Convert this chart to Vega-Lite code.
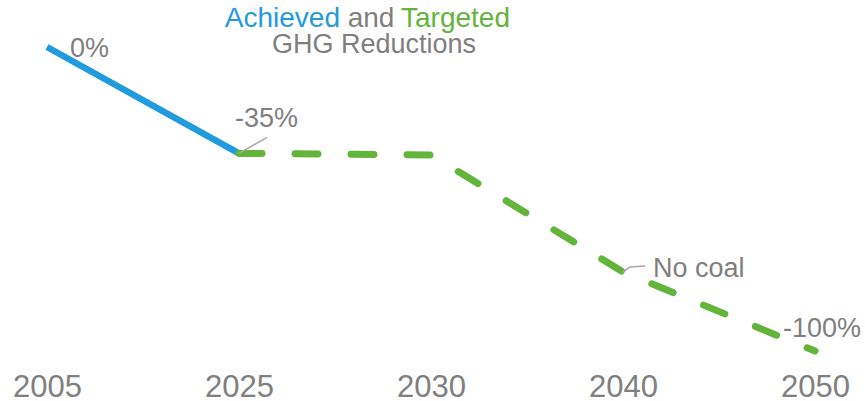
{
  "$schema": "https://vega.github.io/schema/vega-lite/v6.json",
  "width": 862,
  "height": 351,
  "autosize": "none",
  "padding": {"left": 0, "top": 0, "right": 3, "bottom": 50},
  "background": "white",
  "config": {"view": {"stroke": null}, "font": "Liberation Sans"},
  "datasets": {
    "ghg": [
      {"year": "2005", "value": 0, "series": "Achieved"},
      {"year": "2025", "value": -35, "series": "Achieved"},
      {"year": "2025", "value": -35, "series": "Targeted"},
      {"year": "2030", "value": -35.5, "series": "Targeted"},
      {"year": "2040", "value": -74, "series": "Targeted"},
      {"year": "2050", "value": -100, "series": "Targeted"}
    ],
    "notes": [
      {"year": "2005", "value": 0, "label": "0%"},
      {"year": "2025", "value": -35, "label": "-35%"},
      {"year": "2040", "value": -74, "label": "No coal"},
      {"year": "2050", "value": -100, "label": "-100%"}
    ],
    "heading": [
      {"part": "Achieved"},
      {"part": "and"},
      {"part": "Targeted"},
      {"part": "GHG Reductions"}
    ]
  },
  "layer": [
    {
      "data": {"name": "ghg"},
      "transform": [{"filter": "datum.series == 'Achieved'"}],
      "mark": {"type": "line", "color": "#1F9BDE", "strokeWidth": 6.5, "strokeCap": "butt"},
      "encoding": {
        "x": {
          "field": "year",
          "type": "ordinal",
          "scale": {"type": "point", "padding": 0.2448, "domain": ["2005", "2025", "2030", "2040", "2050"]},
          "axis": {
            "title": null,
            "domain": false,
            "ticks": false,
            "grid": false,
            "labelAngle": 0,
            "labelFont": "Liberation Sans",
            "labelFontSize": 31,
            "labelColor": "#808080",
            "labelBaseline": "alphabetic",
            "labelPadding": 45
          }
        },
        "y": {
          "field": "value",
          "type": "quantitative",
          "scale": {"domain": [-100, 15.46], "nice": false, "zero": false},
          "axis": null
        }
      }
    },
    {
      "data": {"name": "ghg"},
      "transform": [{"filter": "datum.series == 'Targeted'"}],
      "mark": {"type": "line", "color": "#62B53A", "strokeWidth": 7, "strokeCap": "round", "strokeJoin": "round", "strokeDash": [23, 33]},
      "encoding": {
        "x": {"field": "year", "type": "ordinal"},
        "y": {"field": "value", "type": "quantitative"}
      }
    },
    {
      "data": {"name": "notes"},
      "transform": [{"filter": "datum.label == '-35%'"}],
      "mark": {"type": "rule", "color": "#A6A6A6", "strokeWidth": 1.5, "x2Offset": 28, "y2Offset": -16},
      "encoding": {
        "x": {"field": "year", "type": "ordinal"},
        "y": {"field": "value", "type": "quantitative"},
        "x2": {"field": "year"},
        "y2": {"field": "value"}
      }
    },
    {
      "data": {"name": "notes"},
      "transform": [{"filter": "datum.label == 'No coal'"}],
      "mark": {"type": "rule", "color": "#A6A6A6", "strokeWidth": 1.5, "x2Offset": 7, "y2Offset": -5},
      "encoding": {
        "x": {"field": "year", "type": "ordinal"},
        "y": {"field": "value", "type": "quantitative"},
        "x2": {"field": "year"},
        "y2": {"field": "value"}
      }
    },
    {
      "data": {"name": "notes"},
      "transform": [{"filter": "datum.label == 'No coal'"}],
      "mark": {"type": "rule", "color": "#A6A6A6", "strokeWidth": 1.5, "xOffset": 7, "yOffset": -5, "x2Offset": 22, "y2Offset": -6},
      "encoding": {
        "x": {"field": "year", "type": "ordinal"},
        "y": {"field": "value", "type": "quantitative"},
        "x2": {"field": "year"},
        "y2": {"field": "value"}
      }
    },
    {
      "data": {"name": "notes"},
      "transform": [{"filter": "datum.label == '0%'"}],
      "mark": {"type": "text", "align": "left", "baseline": "alphabetic", "dx": 23, "dy": 10, "fontSize": 27, "color": "#7F7F7F"},
      "encoding": {
        "x": {"field": "year", "type": "ordinal"},
        "y": {"field": "value", "type": "quantitative"},
        "text": {"field": "label"}
      }
    },
    {
      "data": {"name": "notes"},
      "transform": [{"filter": "datum.label == '-35%'"}],
      "mark": {"type": "text", "align": "left", "baseline": "alphabetic", "dx": -4, "dy": -26, "fontSize": 27, "color": "#7F7F7F"},
      "encoding": {
        "x": {"field": "year", "type": "ordinal"},
        "y": {"field": "value", "type": "quantitative"},
        "text": {"field": "label"}
      }
    },
    {
      "data": {"name": "notes"},
      "transform": [{"filter": "datum.label == 'No coal'"}],
      "mark": {"type": "text", "align": "left", "baseline": "alphabetic", "dx": 30, "dy": 5, "fontSize": 27, "color": "#7F7F7F"},
      "encoding": {
        "x": {"field": "year", "type": "ordinal"},
        "y": {"field": "value", "type": "quantitative"},
        "text": {"field": "label"}
      }
    },
    {
      "data": {"name": "notes"},
      "transform": [{"filter": "datum.label == '-100%'"}],
      "mark": {"type": "text", "align": "left", "baseline": "alphabetic", "dx": -32, "dy": -14, "fontSize": 27, "color": "#7F7F7F"},
      "encoding": {
        "x": {"field": "year", "type": "ordinal"},
        "y": {"field": "value", "type": "quantitative"},
        "text": {"field": "label"}
      }
    },
    {
      "data": {"name": "heading"},
      "transform": [{"filter": "datum.part == 'Achieved'"}],
      "mark": {"type": "text", "align": "right", "baseline": "alphabetic", "dx": -91, "fontSize": 28, "color": "#1F9BDE"},
      "encoding": {"x": {"datum": "2030", "type": "ordinal"}, "y": {"datum": 6.6, "type": "quantitative"}, "text": {"field": "part"}}
    },
    {
      "data": {"name": "heading"},
      "transform": [{"filter": "datum.part == 'and'"}],
      "mark": {"type": "text", "align": "center", "baseline": "alphabetic", "dx": -60, "fontSize": 28, "color": "#7F7F7F"},
      "encoding": {"x": {"datum": "2030", "type": "ordinal"}, "y": {"datum": 6.6, "type": "quantitative"}, "text": {"field": "part"}}
    },
    {
      "data": {"name": "heading"},
      "transform": [{"filter": "datum.part == 'Targeted'"}],
      "mark": {"type": "text", "align": "left", "baseline": "alphabetic", "dx": -30, "fontSize": 28, "color": "#62B53A"},
      "encoding": {"x": {"datum": "2030", "type": "ordinal"}, "y": {"datum": 6.6, "type": "quantitative"}, "text": {"field": "part"}}
    },
    {
      "data": {"name": "heading"},
      "transform": [{"filter": "datum.part == 'GHG Reductions'"}],
      "mark": {"type": "text", "align": "center", "baseline": "alphabetic", "dx": -57, "fontSize": 27, "color": "#7F7F7F"},
      "encoding": {"x": {"datum": "2030", "type": "ordinal"}, "y": {"datum": -2, "type": "quantitative"}, "text": {"field": "part"}}
    }
  ]
}
